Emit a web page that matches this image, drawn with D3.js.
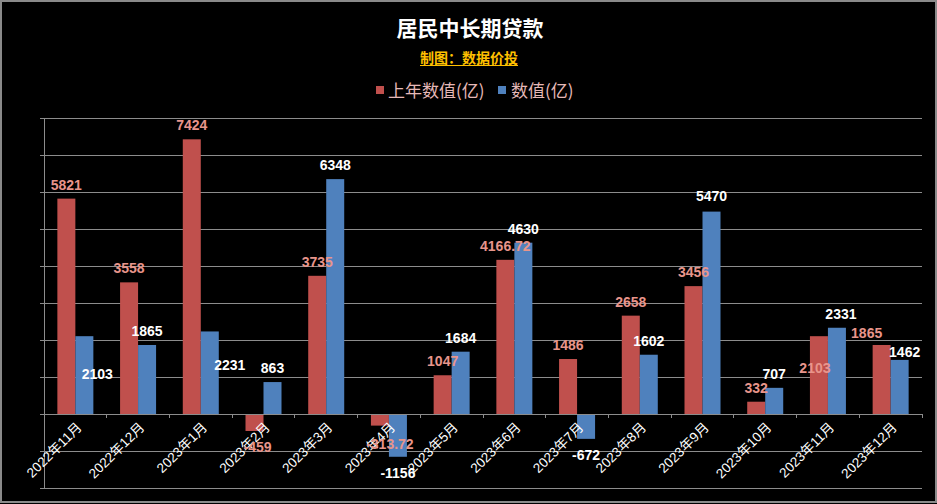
<!DOCTYPE html>
<html>
<head>
<meta charset="utf-8">
<script src="https://cdn.jsdelivr.net/npm/d3@7"></script>
<style>
  html, body { margin: 0; padding: 0; background: #000; }
  svg { display: block; }
</style>
</head>
<body>
<svg id="chart" width="937" height="504"></svg>
<script>
// ---- data ----
const categories = ["2022年11月","2022年12月","2023年1月","2023年2月","2023年3月","2023年4月","2023年5月","2023年6月","2023年7月","2023年8月","2023年9月","2023年10月","2023年11月","2023年12月"];
const prevValues = [5821, 3558, 7424, -459, 3735, -313.72, 1047, 4166.72, 1486, 2658, 3456, 332, 2103, 1865];
const curValues  = [2103, 1865, 2231, 863, 6348, -1156, 1684, 4630, -672, 1602, 5470, 707, 2331, 1462];
const seriesNames = ["上年数值(亿)", "数值(亿)"];
const yTicks = [-2000, -1000, 0, 1000, 2000, 3000, 4000, 5000, 6000, 7000, 8000];

// ---- layout / style ----
const colors = ["#C0504D", "#4F81BD"];
const labelColors = ["#E8958B", "#FFFFFF"];
// label nudges (dx, dy) relative to default label position, [series][index]
const labelNudge = [
  {3: [3, 0], 5: [10, 2], 12: [-4, 46], 13: [-15, 2]},
  {0: [13, 52], 2: [20, 48], 10: [0, -2], 12: [4, 0], 13: [5, 6]}
];

const svg = d3.select("#chart");
const W = 937, H = 504;
const plot = {left: 44, right: 922, top: 118, bottom: 488};

// frame
svg.append("rect").attr("x", 1).attr("y", 1).attr("width", W - 2).attr("height", H - 3)
  .attr("fill", "#000").attr("stroke", "#8a8a8a").attr("stroke-width", 2);

const x = d3.scaleBand().domain(categories).range([plot.left, plot.right]).padding(0);
const y = d3.scaleLinear().domain([-2000, 8000]).range([plot.bottom, plot.top]);
const groupW = x.bandwidth() * 0.574;
const x1 = d3.scaleBand().domain([0, 1]).range([-groupW / 2, groupW / 2]).padding(0);

const gridColor = "#8c8c8c";

// gridlines
svg.append("g").selectAll("line").data(yTicks.filter(t => t !== 0)).join("line")
  .attr("x1", plot.left).attr("x2", plot.right)
  .attr("y1", d => y(d)).attr("y2", d => y(d))
  .attr("stroke", gridColor).attr("stroke-width", 1).attr("shape-rendering", "crispEdges");

// left axis
const yAxis = d3.axisLeft(y).tickValues(yTicks).tickSize(4).tickSizeOuter(0).tickFormat("");
const gy = svg.append("g").attr("transform", `translate(${plot.left},0)`).call(yAxis);
gy.selectAll("line, path").attr("stroke", gridColor).attr("shape-rendering", "crispEdges");

// bars
const series = [prevValues, curValues];
series.forEach((vals, s) => {
  svg.append("g").selectAll("rect").data(vals).join("rect")
    .attr("x", (d, i) => x(categories[i]) + x.bandwidth() / 2 + x1(s))
    .attr("width", x1.bandwidth())
    .attr("y", d => y(Math.max(0, d)))
    .attr("height", d => Math.abs(y(d) - y(0)))
    .attr("fill", colors[s]);
});

// x axis at zero
const xAxisG = svg.append("g");
xAxisG.append("line").attr("x1", plot.left).attr("x2", plot.right)
  .attr("y1", y(0)).attr("y2", y(0)).attr("stroke", gridColor).attr("shape-rendering", "crispEdges");
const bounds = categories.map(c => x(c)).concat([plot.right]);
xAxisG.selectAll("line.tk").data(bounds).join("line").attr("class", "tk")
  .attr("x1", d => d).attr("x2", d => d).attr("y1", y(0)).attr("y2", y(0) + 4)
  .attr("stroke", gridColor).attr("shape-rendering", "crispEdges");

// x labels
svg.append("g").selectAll("text").data(categories).join("text")
  .attr("transform", d => `translate(${x(d) + x.bandwidth() / 2 + 4},${y(0) + 11}) rotate(-45)`)
  .attr("text-anchor", "end")
  .attr("dominant-baseline", "central")
  .attr("fill", "#fff")
  .attr("font-family", "'Liberation Sans', 'Noto Sans CJK SC', sans-serif")
  .attr("font-size", 13.5)
  .text(d => d);

// value labels
series.forEach((vals, s) => {
  svg.append("g").selectAll("text").data(vals).join("text")
    .attr("x", (d, i) => x(categories[i]) + x.bandwidth() / 2 + x1(s) + x1.bandwidth() / 2 + ((labelNudge[s][i] || [0, 0])[0]))
    .attr("y", (d, i) => (d >= 0 ? y(d) - 14 : y(d) + 16) + ((labelNudge[s][i] || [0, 0])[1]))
    .attr("text-anchor", "middle")
    .attr("dominant-baseline", "central")
    .attr("fill", labelColors[s])
    .attr("font-family", "'Liberation Sans', Arial, sans-serif")
    .attr("font-weight", "bold")
    .attr("font-size", 14)
    .text(d => d);
});

// title
svg.append("text").attr("x", 470).attr("y", 27)
  .attr("text-anchor", "middle").attr("dominant-baseline", "central")
  .attr("fill", "#fff").attr("font-weight", "bold")
  .attr("font-family", "'Noto Sans CJK SC', sans-serif").attr("font-size", 21)
  .text("居民中长期贷款");

// subtitle
svg.append("text").attr("x", 469).attr("y", 57)
  .attr("text-anchor", "middle").attr("dominant-baseline", "central")
  .attr("fill", "#FFC000").attr("font-weight", "bold")
  .attr("font-family", "'Noto Sans CJK SC', sans-serif").attr("font-size", 14)
  .text("制图：数据价投");
svg.append("line").attr("x1", 420).attr("x2", 518).attr("y1", 65.5).attr("y2", 65.5)
  .attr("stroke", "#FFC000").attr("stroke-width", 1);

// legend
const legendItems = [
  {sx: 376, tx: 388},
  {sx: 498, tx: 511}
];
legendItems.forEach((it, s) => {
  svg.append("rect").attr("x", it.sx).attr("y", 86).attr("width", 8).attr("height", 8).attr("fill", colors[s]);
  svg.append("text").attr("x", it.tx).attr("y", 89)
    .attr("dominant-baseline", "central")
    .attr("fill", "#E6B9B8")
    .attr("font-family", "'Noto Sans CJK SC', sans-serif").attr("font-size", 17)
    .text(seriesNames[s]);
});
</script>
</body>
</html>
